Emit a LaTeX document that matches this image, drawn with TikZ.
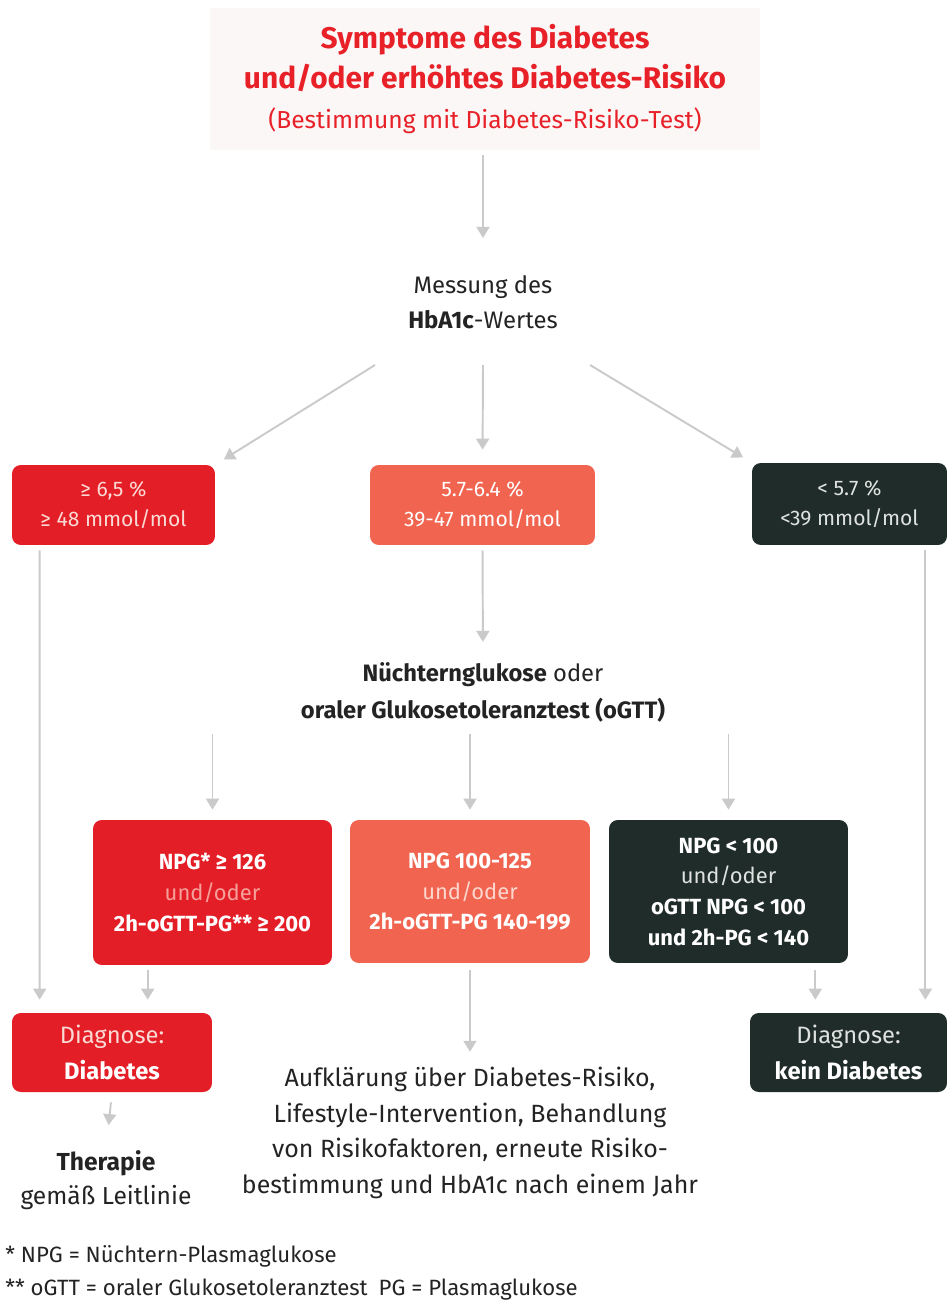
\documentclass[tikz,border=0pt]{standalone}
\usepackage{fontspec}
\setmainfont{Fira Sans}
\usetikzlibrary{arrows.meta}

\definecolor{dred}{RGB}{228,30,38}
\definecolor{salmon}{RGB}{240,100,80}
\definecolor{dgreen}{RGB}{32,44,41}
\definecolor{titlered}{RGB}{232,32,40}
\definecolor{topbg}{RGB}{251,247,246}
\definecolor{arrgrey}{RGB}{202,202,202}
\definecolor{txt}{RGB}{35,35,35}
\definecolor{lightred}{RGB}{250,218,212}
\definecolor{undred}{RGB}{246,160,155}
\definecolor{undsal}{RGB}{252,214,204}
\definecolor{lightgrey}{RGB}{222,226,224}

\begin{document}
\begin{tikzpicture}[x=0.02cm, y=-0.02cm, >={Triangle[length=2.2mm, width=2.6mm]},
	every node/.style={font=\fontsize{12}{17.5}\selectfont, text=txt, inner sep=0pt},
	arr/.style={->, draw=arrgrey, line width=1.1pt},
	box/.style={rounded corners=5pt, align=center},
	redbox/.style={box, fill=dred, text=lightred},
	salbox/.style={box, fill=salmon, text=white},
	darkbox/.style={box, fill=dgreen, text=lightgrey},
	lbl/.style={align=center}]
	\useasboundingbox (0,0) rectangle (947,1304);

	\node[fill=topbg, minimum width=11cm, minimum height=2.84cm, align=center, text=titlered,
		font=\fontsize{17}{22.7}\selectfont\bfseries] (top) at (485,79)
		{Symptome des Diabetes\\und/oder erhöhtes Diabetes-Risiko\\{\mdseries\fontsize{14}{22.7}\selectfont (Bestimmung mit Diabetes-Risiko-Test)}};
	\node[lbl, font=\fontsize{13.6}{20}\selectfont] (mess) at (483,302) {Messung des\\\textbf{HbA1c}-Wertes};

	\node[redbox, minimum width=4.06cm, minimum height=1.6cm] (b1) at (113.5,505) {≥ 6,5 \%\\≥ 48 mmol/mol};
	\node[salbox, minimum width=4.5cm, minimum height=1.6cm] (b2) at (482.5,505) {5.7-6.4 \%\\39-47 mmol/mol};
	\node[darkbox, minimum width=3.9cm, minimum height=1.64cm] (b3) at (849.5,504) {< 5.7 \%\\<39 mmol/mol};

	\node[lbl, font=\fontsize{13.5}{21}\selectfont] (nog) at (483,692) {\textbf{Nüchternglukose} oder\\\textbf{oraler Glukosetoleranztest (oGTT)}};

	\node[redbox, minimum width=4.78cm, minimum height=2.9cm, font=\fontsize{12.5}{17.5}\selectfont] (b4) at (212.5,892.5)
		{\textbf{\color{white}NPG* ≥ 126}\\{\color{undred}und/oder}\\\textbf{\color{white}2h-oGTT-PG** ≥ 200}};
	\node[salbox, minimum width=4.8cm, minimum height=2.86cm, font=\fontsize{12.5}{17.5}\selectfont] (b5) at (470,891.5)
		{\textbf{NPG 100-125}\\{\color{undsal}und/oder}\\\textbf{2h-oGTT-PG 140-199}};
	\node[darkbox, minimum width=4.78cm, minimum height=2.86cm, font=\fontsize{12.5}{17.5}\selectfont] (b6) at (728.5,891.5)
		{\textbf{\color{white}NPG < 100}\\und/oder\\\textbf{\color{white}oGTT NPG < 100}\\\textbf{\color{white}und 2h-PG < 140}};

	\node[redbox, minimum width=4cm, minimum height=1.58cm, font=\fontsize{13.5}{20}\selectfont] (b7) at (112,1052.5)
		{Diagnose:\\\textbf{\color{white}Diabetes}};
	\node[darkbox, minimum width=3.94cm, minimum height=1.58cm, font=\fontsize{13.5}{20}\selectfont] (b8) at (848.5,1052.5)
		{Diagnose:\\\textbf{\color{white}kein Diabetes}};

	\node[lbl, font=\fontsize{14}{19.5}\selectfont] (ther) at (106,1180) {\textbf{Therapie}\\gemäß Leitlinie};
	\node[lbl, font=\fontsize{14.2}{20.3}\selectfont] (auf) at (470,1133)
		{Aufklärung über Diabetes-Risiko,\\Lifestyle-Intervention, Behandlung\\von Risikofaktoren, erneute Risiko-\\bestimmung und HbA1c nach einem Jahr};

	\node[anchor=west, font=\fontsize{12.6}{14}\selectfont] (fn1) at (5,1256) {* NPG = Nüchtern-Plasmaglukose};
	\node[anchor=west, font=\fontsize{12.6}{14}\selectfont] (fn2) at (5,1290) {** oGTT = oraler Glukosetoleranztest\enspace PG = Plasmaglukose};

	\coordinate (m1) at (375,365);
	\coordinate (m2) at (483,365);
	\coordinate (m3) at (590,365);

	\draw[arr, shorten <=0.1cm, shorten >=0.74cm] (top.south -| mess.north) -- (mess.north);
	\draw[arr, shorten >=0.2cm] (m1) -- (b1.north east);
	\draw[arr, shorten >=0.3cm] (m2) -- (b2.north);
	\draw[arr, shorten >=0.2cm] (m3) -- (b3.north west);
	\draw[arr, shorten <=0.1cm, shorten >=0.4cm] (b2.south) -- (nog.north);
	\foreach \b in {b4,b5,b6}
		\draw[arr, shorten <=0.24cm, shorten >=0.2cm] (nog.south -| \b.north) -- (\b.north);
	\draw[arr, shorten <=0.1cm, shorten >=0.26cm] ([shift={(28,0)}]b1.south west) -- ([shift={(28,0)}]b7.north west);
	\draw[arr, shorten <=0.1cm, shorten >=0.26cm] ([shift={(55,0)}]b4.south west) -- ([shift={(55,0)}]b4.south west |- b7.north);
	\draw[arr, shorten <=0.2cm, shorten >=0.5cm] (b7.south) -- (ther.north);
	\draw[arr, shorten <=0.14cm, shorten >=0.3cm] (b5.south) -- (auf.north);
	\draw[arr, shorten <=0.1cm, shorten >=0.26cm] ([shift={(-22,0)}]b3.south east) -- ([shift={(-22,0)}]b3.south east |- b8.north);
	\draw[arr, shorten <=0.14cm, shorten >=0.26cm] ([shift={(-33,0)}]b6.south east) -- ([shift={(-33,0)}]b6.south east |- b8.north);
\end{tikzpicture}
\end{document}
